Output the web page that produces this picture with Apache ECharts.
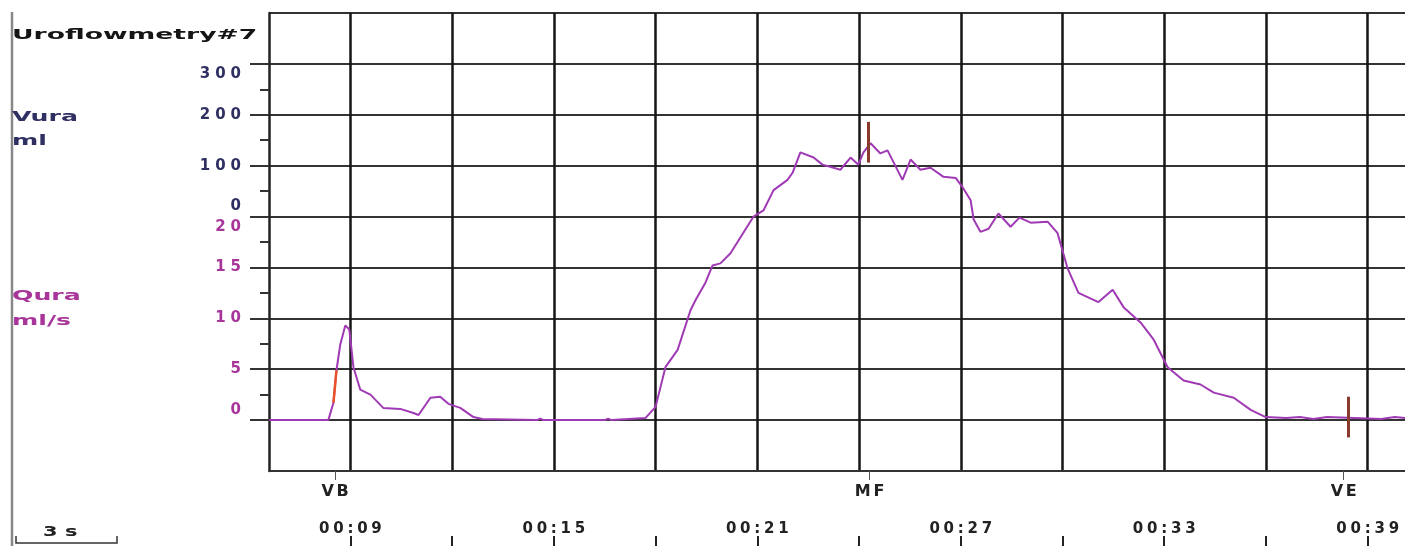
<!DOCTYPE html>
<html>
<head>
<meta charset="utf-8">
<script src="https://cdn.jsdelivr.net/npm/echarts@6/dist/echarts.min.js"></script>
<style>
  * { margin: 0; padding: 0; }
  body { background: #fff; }
  #main { width: 1405px; height: 546px; }
</style>
</head>
<body>
<div id="main"></div>
<script>
// flow curve (s, ml/s)
var flowTimes = [6.6, 8.35, 8.5, 8.59, 8.7, 8.85, 8.97, 9.09, 9.29, 9.59, 9.97, 10.47, 10.86, 11.01, 11.36, 11.65, 11.89, 12.24, 12.63, 12.89,
  14.5, 14.6, 14.7, 16.5, 16.6, 16.7, 17.7, 18.0, 18.29, 18.65, 19.03, 19.18, 19.47, 19.68, 19.91, 20.21, 20.51, 20.89, 21.18, 21.48,
  21.89, 22.04, 22.27, 22.66, 22.92, 23.45, 23.75, 23.98, 24.13, 24.34, 24.63, 24.84, 25.28, 25.52, 25.81, 26.11, 26.49, 26.85, 27.05,
  27.29, 27.38, 27.58, 27.82, 28.11, 28.47, 28.73, 29.06, 29.56, 29.85, 30.15, 30.47, 31.06, 31.48, 31.8, 32.3, 32.69, 33.1, 33.57,
  34.07, 34.46, 35.05, 35.55, 35.99, 36.6, 37.0, 37.4, 37.8, 38.6, 39.4, 39.8, 40.1];
var flowValues = [0, 0, 1.7, 4.9, 7.4, 9.3, 8.9, 5.2, 3.0, 2.5, 1.2, 1.1, 0.7, 0.5, 2.2, 2.3, 1.6, 1.2, 0.3, 0.1,
  0, 0.15, 0, 0, 0.15, 0, 0.2, 1.3, 5.2, 6.9, 10.8, 11.8, 13.5, 15.2, 15.4, 16.4, 18.0, 20.0, 20.6, 22.6,
  23.6, 24.3, 26.3, 25.8, 25.1, 24.6, 25.8, 25.1, 26.3, 27.2, 26.2, 26.5, 23.6, 25.6, 24.6, 24.8, 23.9, 23.8, 22.9,
  21.6, 19.7, 18.5, 18.8, 20.3, 19.0, 19.9, 19.4, 19.5, 18.4, 14.9, 12.5, 11.6, 12.8, 11.1, 9.6, 7.9, 5.2, 3.9,
  3.5, 2.7, 2.2, 1.0, 0.3, 0.2, 0.3, 0.1, 0.3, 0.2, 0.1, 0.3, 0.2];

// the red start of the rise near VB
var riseStart = 8.5, riseEnd = 8.59;

var gridTimes = [9, 12, 15, 18, 21, 24, 27, 30, 33, 36, 39];
var timeLabelValues = [9, 15, 21, 27, 33, 39];
var timeLabels = ['00:09', '00:15', '00:21', '00:27', '00:33', '00:39'];
var eventTimes = [8.55, 24.31, 38.29];
var eventNames = ['VB', 'MF', 'VE'];
var markerTimes = [24.28, 38.44];
var markerLow = [25.3, -1.7];
var markerHigh = [29.3, 2.3];

var quraLabels = [0, 5, 10, 15, 20];
var vuraLabels = [0, 100, 200, 300];
var yLabelValues = [0, 5, 10, 15, 20, 25, 30, 35];
var yMinorValues = [2.5, 7.5, 12.5, 17.5, 22.5, 27.5, 32.5];

var qColor = '#a8369a';
var vColor = '#2f2f62';
var font = 'DejaVu Sans';

function sp(s, gap) {
  return String(s).split('').join(gap || '\u2005');
}

function yLabel(val) {
  var q = quraLabels.indexOf(val) >= 0 ? '{q|' + sp(val, '\u2004') + '}' : '';
  var vv = (val - 20) * 20;
  var v = val >= 20 && vuraLabels.indexOf(vv) >= 0 ? '{v|' + sp(vv, '\u2004') + '}' : '';
  if (q && v) return v + '\n' + q;
  if (val === 0) return q + '\n{e| }';
  if (val === 35) return '{e| }\n' + v;
  return q || v;
}

var flowData = flowTimes.map(function (t, i) { return [t, flowValues[i]]; });
var riseData = flowData.filter(function (p) { return p[0] >= riseStart && p[0] <= riseEnd; });
var markerLines = markerTimes.map(function (t, i) {
  return [{ coord: [t, markerLow[i]] }, { coord: [t, markerHigh[i]] }];
});

var chart = echarts.init(document.getElementById('main'));
chart.setOption({
  animation: false,
  backgroundColor: '#fff',
  grid: { left: 269, right: 0, top: 13, bottom: 75 },
  xAxis: [{
    type: 'value', min: 6.6, max: 40.1, position: 'bottom',
    axisLine: { show: true, onZero: false, lineStyle: { color: '#333', width: 2 } },
    axisTick: { show: false, customValues: gridTimes },
    axisLabel: { show: false },
    splitLine: { show: true, lineStyle: { color: '#151515', width: 2.5 } }
  }, {
    type: 'value', min: 6.6, max: 40.1, position: 'bottom',
    axisLine: { show: false, onZero: false },
    axisTick: { show: true, customValues: eventTimes, length: 9, lineStyle: { color: '#555', width: 1 } },
    axisLabel: {
      show: true, customValues: eventTimes, margin: 13,
      fontFamily: font, fontWeight: 'bold', fontSize: 16, color: '#222',
      formatter: function (val) { return sp(eventNames[eventTimes.indexOf(val)] || '', '\u2006'); }
    },
    splitLine: { show: false }
  }, {
    type: 'value', min: 6.6, max: 40.1, position: 'bottom', offset: 75,
    axisLine: { show: false, onZero: false },
    axisTick: { show: true, inside: true, customValues: gridTimes, length: 10, lineStyle: { color: '#222', width: 2 } },
    axisLabel: {
      show: true, inside: true, customValues: timeLabelValues, margin: 9,
      fontFamily: font, fontWeight: 'bold', fontSize: 15, color: '#222',
      formatter: function (val) { return sp(timeLabels[timeLabelValues.indexOf(val)] || ''); }
    },
    splitLine: { show: false }
  }],
  yAxis: [{
    type: 'value', min: -5, max: 40, interval: 5,
    axisLine: { show: true, onZero: false, lineStyle: { color: '#222', width: 2.5 } },
    axisTick: { show: false },
    axisLabel: { show: false },
    splitLine: { show: true, lineStyle: { color: '#333', width: 2 } }
  }, {
    type: 'value', min: -5, max: 40, interval: 5, position: 'left',
    axisLine: { show: false, onZero: false },
    axisTick: { show: true, customValues: yLabelValues, length: 19, lineStyle: { color: '#333', width: 2 } },
    axisLabel: {
      show: true, customValues: yLabelValues, margin: 28, align: 'right',
      formatter: yLabel,
      rich: {
        q: { color: qColor, fontFamily: font, fontWeight: 'bold', fontSize: 15, lineHeight: 21 },
        v: { color: vColor, fontFamily: font, fontWeight: 'bold', fontSize: 15, lineHeight: 21 },
        e: { fontSize: 14, lineHeight: 21 }
      }
    },
    splitLine: { show: false }
  }, {
    type: 'value', min: -5, max: 40, interval: 5, position: 'left',
    axisLine: { show: false, onZero: false },
    axisTick: { show: true, customValues: yMinorValues, length: 9, lineStyle: { color: '#333', width: 2 } },
    axisLabel: { show: false },
    splitLine: { show: false }
  }],
  graphic: [
    { type: 'line', shape: { x1: 12, y1: 12, x2: 12, y2: 546 }, style: { stroke: '#888', lineWidth: 2.5 } },
    { type: 'polyline', shape: { points: [[16, 536], [16, 543], [117, 543], [117, 536]] }, style: { stroke: '#333', lineWidth: 1.5, fill: null } },
    { type: 'text', x: 43, y: 532, scaleX: 1.5, style: { text: '3 s', font: 'bold 14px ' + font, fill: '#222', verticalAlign: 'middle' } },
    { type: 'text', x: 12, y: 35, scaleX: 1.9, style: { text: 'Uroflowmetry#7', font: 'bold 14px ' + font, fill: '#151515', verticalAlign: 'middle' } },
    { type: 'text', x: 12, y: 117, scaleX: 1.8, style: { text: 'Vura', font: 'bold 14px ' + font, fill: vColor, verticalAlign: 'middle' } },
    { type: 'text', x: 12, y: 141, scaleX: 1.8, style: { text: 'ml', font: 'bold 14px ' + font, fill: vColor, verticalAlign: 'middle' } },
    { type: 'text', x: 12, y: 296, scaleX: 1.8, style: { text: 'Qura', font: 'bold 14px ' + font, fill: qColor, verticalAlign: 'middle' } },
    { type: 'text', x: 12, y: 321, scaleX: 1.8, style: { text: 'ml/s', font: 'bold 14px ' + font, fill: qColor, verticalAlign: 'middle' } }
  ],
  series: [{
    name: 'Qura', type: 'line', xAxisIndex: 0, yAxisIndex: 0,
    data: flowData, showSymbol: false, smooth: false,
    lineStyle: { color: '#a03ab4', width: 2 },
    markLine: {
      symbol: ['none', 'none'], silent: true, label: { show: false },
      lineStyle: { color: '#8a3a2c', width: 3, type: 'solid' },
      data: markerLines
    }
  }, {
    name: 'rise', type: 'line', xAxisIndex: 0, yAxisIndex: 0,
    data: riseData, showSymbol: false,
    lineStyle: { color: '#e8532a', width: 2.5 }
  }]
});
</script>
</body>
</html>
